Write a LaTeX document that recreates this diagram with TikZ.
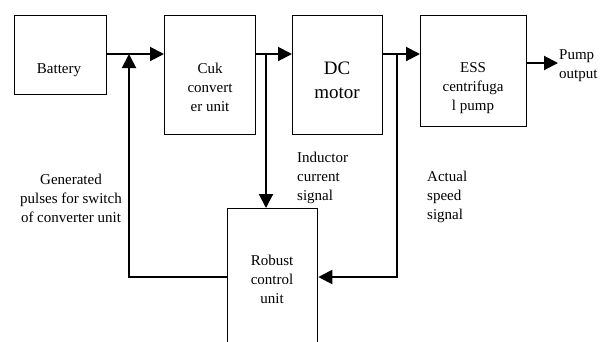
\documentclass[tikz,border=0pt]{standalone}
\usepackage{fontspec}
\setmainfont{Liberation Serif}
\usetikzlibrary{arrows.meta}
\begin{document}
\begin{tikzpicture}[x=1pt,y=-1pt,
  blk/.style={draw, line width=1.3pt, inner sep=0pt, anchor=north west},
  txt/.style={font=\fontsize{15}{19}\selectfont, align=center, inner sep=0pt},
  big/.style={font=\fontsize{19}{24}\selectfont, align=center, inner sep=0pt},
  conn/.style={line width=2pt},
  arr/.style={conn, -{Triangle[length=14pt,width=14pt]}}]
\useasboundingbox (0,0) rectangle (601,341);
\clip (0,0) rectangle (601,341);
% boxes
\node[blk, minimum width=92pt, minimum height=79pt] (bat) at (14,15) {};
\node[blk, minimum width=91pt, minimum height=119pt] (cuk) at (164,15) {};
\node[blk, minimum width=90pt, minimum height=119pt] (dc) at (292,15) {};
\node[blk, minimum width=106pt, minimum height=111pt] (ess) at (420,15) {};
\node[blk, minimum width=90pt, minimum height=170pt] (rob) at (227,208) {};
% box texts
\node[txt] (tbat) at (59,70) {Battery};
\node[txt] (tcuk) at (210,87) {Cuk\\convert\\er unit};
\node[big] (tdc) at (337,80) {DC\\motor};
\node[txt] (tess) at (473,88) {ESS\\centrifuga\\l pump};
\node[txt] (trob) at (272,279) {Robust\\control\\unit};
% labels
\node[txt] (lgen) at (71,198) {Generated\\pulses for switch\\of converter unit};
\node[txt, align=left, anchor=west] (lind) at (297,178) {Inductor\\current\\signal};
\node[txt, align=left, anchor=west] (lact) at (427,197) {Actual\\speed\\signal};
\node[txt, align=left, anchor=west] (lpump) at (559,66) {Pump\\output};
% junctions
\coordinate (fb) at (129,54);
\coordinate (j1) at (266,54);
\coordinate (j2) at (397,54);
\coordinate (fbc) at (129,277);
\coordinate (j2c) at (397,277);
\coordinate (pend) at (558,63);
% connectors
\draw[arr] (bat.east |- fb) -- (cuk.west |- fb);
\draw[arr] (cuk.east |- j1) -- (dc.west |- j1);
\draw[arr] (dc.east |- j2) -- (ess.west |- j2);
\draw[arr] (ess.east |- pend) -- (pend);
\draw[arr] (j1) -- (j1 |- rob.north);
\draw[arr] (j2) -- (j2c) -- (rob.east |- j2c);
\draw[arr] (rob.west |- fbc) -- (fbc) -- (fb);
\end{tikzpicture}
\end{document}
